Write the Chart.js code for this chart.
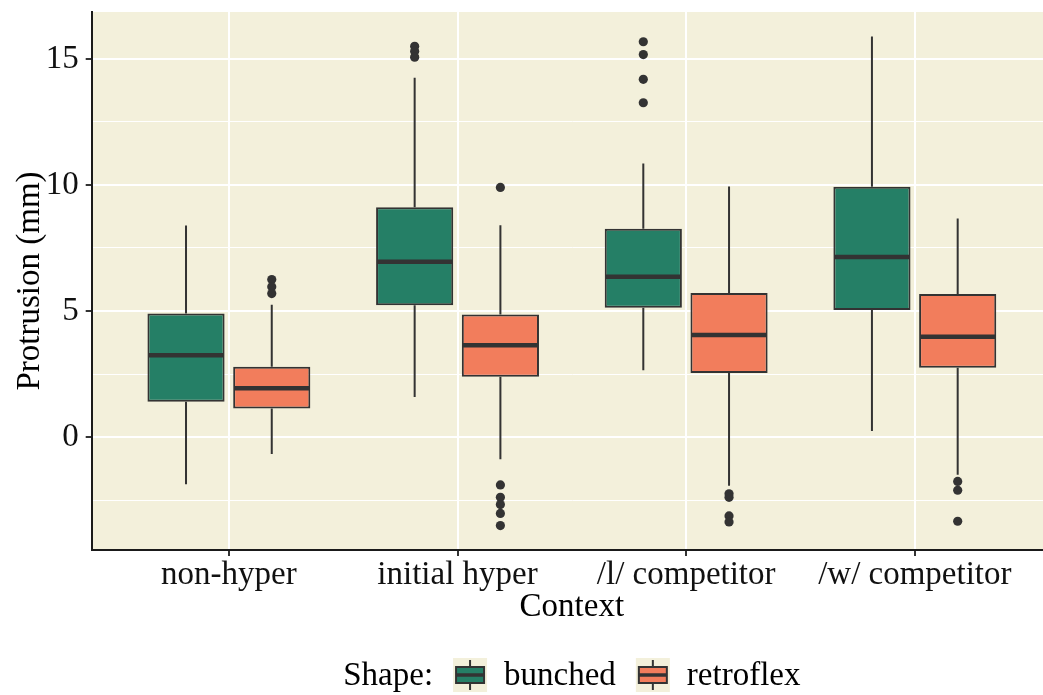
<!DOCTYPE html>
<html>
<head>
<meta charset="utf-8">
<script src="https://cdn.jsdelivr.net/npm/chart.js@4.4.1/dist/chart.umd.min.js"></script>
<style>
  html, body { margin: 0; padding: 0; background: #ffffff; overflow: hidden; width: 1043px; height: 695px; }
  canvas { display: block; }
</style>
</head>
<body>
<canvas id="chart" width="1052" height="695"></canvas>
<script>
// Lip protrusion (mm) by context and /r/ tongue shape
const contexts = ['non-hyper', 'initial hyper', '/l/ competitor', '/w/ competitor'];
const shapes = ['bunched', 'retroflex'];

const bunchedLower  = [-1.87, 1.59, 2.65, 0.24];
const bunchedQ1     = [1.40, 5.23, 5.13, 5.04];
const bunchedMedian = [3.24, 6.95, 6.36, 7.14];
const bunchedQ3     = [4.90, 9.12, 8.26, 9.93];
const bunchedUpper  = [8.39, 14.25, 10.85, 15.89];
const bunchedOutliers = [[], [15.50, 15.30, 15.07], [15.68, 15.17, 14.19, 13.26], []];

const retroflexLower  = [-0.67, -0.88, -1.93, -1.50];
const retroflexQ1     = [1.13, 2.39, 2.54, 2.75];
const retroflexMedian = [1.94, 3.64, 4.05, 3.98];
const retroflexQ3     = [2.79, 4.86, 5.71, 5.67];
const retroflexUpper  = [5.25, 8.40, 9.94, 8.67];
const retroflexOutliers = [[6.25, 5.96, 5.69], [9.90, -1.90, -2.39, -2.68, -3.03, -3.51], [-2.25, -2.39, -3.13, -3.37], [-1.76, -2.11, -3.34]];

const yTicks = [-2.5, 0, 2.5, 5, 7.5, 10, 12.5, 15];
const yMin = -4.48;
const yMax = 16.86;

const shapeColors = ['#257f66', '#f27d5c'];
const panelColor = '#f3f0db';
const inkColor = '#333333';
const FONT = "'Liberation Serif', 'Times New Roman', serif";

const stats = [
  { lower: bunchedLower, median: bunchedMedian, upper: bunchedUpper, outliers: bunchedOutliers },
  { lower: retroflexLower, median: retroflexMedian, upper: retroflexUpper, outliers: retroflexOutliers }
];

// boxes are floating bars spanning the interquartile range
const boxes = (q1, q3) => q1.map((v, i) => ({ x: i, y: [v, q3[i]] }));

const panelBackground = {
  id: 'panelBackground',
  beforeDraw(chart) {
    const { ctx, chartArea: a } = chart;
    ctx.save();
    ctx.fillStyle = panelColor;
    ctx.fillRect(a.left, a.top, a.right - a.left, a.bottom - a.top);
    ctx.restore();
  }
};

// whiskers, medians and outlying points, placed on each box drawn by the bar controller
const boxParts = {
  id: 'boxParts',
  afterDatasetsDraw(chart) {
    const { ctx } = chart;
    const y = chart.scales.y;
    ctx.save();
    stats.forEach((s, d) => {
      const meta = chart.getDatasetMeta(d);
      meta.data.forEach((bar, i) => {
        const cx = bar.x;
        const half = bar.width / 2;
        const raw = chart.data.datasets[d].data[i].y;
        const pQ1 = y.getPixelForValue(raw[0]);
        const pQ3 = y.getPixelForValue(raw[1]);
        ctx.strokeStyle = inkColor;
        ctx.lineWidth = 2;
        ctx.lineCap = 'butt';
        ctx.beginPath();
        ctx.moveTo(cx, pQ3);
        ctx.lineTo(cx, y.getPixelForValue(s.upper[i]));
        ctx.moveTo(cx, pQ1);
        ctx.lineTo(cx, y.getPixelForValue(s.lower[i]));
        ctx.stroke();
        ctx.lineWidth = 4.5;
        ctx.beginPath();
        const pm = y.getPixelForValue(s.median[i]);
        ctx.moveTo(cx - half + 1, pm);
        ctx.lineTo(cx + half - 1, pm);
        ctx.stroke();
        ctx.fillStyle = inkColor;
        s.outliers[i].forEach(v => {
          ctx.beginPath();
          ctx.arc(cx, y.getPixelForValue(v), 4.6, 0, Math.PI * 2);
          ctx.fill();
        });
      });
    });
    ctx.restore();
  }
};

// legend row: "Shape:" followed by a box-plot key per series
const shapeLegend = {
  id: 'shapeLegend',
  afterDraw(chart) {
    const { ctx, chartArea: a } = chart;
    ctx.save();
    ctx.font = '33px ' + FONT;
    ctx.fillStyle = '#000';
    ctx.textBaseline = 'alphabetic';
    ctx.textAlign = 'left';
    const title = 'Shape:';
    const key = 34, gapTitle = 20, gapKey = 17, gapItem = 20;
    const wTitle = ctx.measureText(title).width;
    const widths = shapes.map(s => ctx.measureText(s).width);
    let total = wTitle + gapTitle;
    widths.forEach((w, i) => { total += (i > 0 ? gapItem : 0) + key + gapKey + w; });
    const baseline = 685;
    const keyTop = 658;
    let x = (a.left + a.right) / 2 - total / 2;
    ctx.fillText(title, x, baseline);
    x += wTitle + gapTitle;
    shapes.forEach((s, i) => {
      if (i > 0) x += gapItem;
      ctx.fillStyle = panelColor;
      ctx.fillRect(x, keyTop, key, key);
      const cx = x + key / 2;
      ctx.strokeStyle = inkColor;
      ctx.lineWidth = 2;
      ctx.beginPath();
      ctx.moveTo(cx, keyTop + 2);
      ctx.lineTo(cx, keyTop + 9);
      ctx.moveTo(cx, keyTop + 25);
      ctx.lineTo(cx, keyTop + 32);
      ctx.stroke();
      ctx.fillStyle = shapeColors[i];
      ctx.fillRect(x + 3, keyTop + 9, key - 6, 16);
      ctx.strokeRect(x + 3, keyTop + 9, key - 6, 16);
      ctx.lineWidth = 3.5;
      ctx.beginPath();
      ctx.moveTo(x + 3, keyTop + 17);
      ctx.lineTo(x + key - 3, keyTop + 17);
      ctx.stroke();
      x += key + gapKey;
      ctx.fillStyle = '#000';
      ctx.fillText(s, x, baseline);
      x += widths[i];
    });
    ctx.restore();
  }
};

const isMajor = c => c.tick && Math.abs(c.tick.value % 5) < 1e-9;

new Chart(document.getElementById('chart'), {
  type: 'bar',
  data: {
    datasets: [
      { label: shapes[0], data: boxes(bunchedQ1, bunchedQ3), backgroundColor: shapeColors[0], borderColor: inkColor, borderWidth: 2, borderSkipped: false },
      { label: shapes[1], data: boxes(retroflexQ1, retroflexQ3), backgroundColor: shapeColors[1], borderColor: inkColor, borderWidth: 2, borderSkipped: false }
    ]
  },
  plugins: [panelBackground, boxParts, shapeLegend],
  options: {
    responsive: false,
    animation: false,
    devicePixelRatio: 1,
    layout: { padding: { top: 12, right: 0, bottom: 0, left: 0 } },
    font: { family: FONT },
    plugins: { legend: { display: false }, tooltip: { enabled: false } },
    datasets: { bar: { categoryPercentage: 0.75, barPercentage: 0.9 } },
    scales: {
      x: {
        type: 'linear',
        offset: false,
        min: -0.6,
        max: 3.6,
        afterBuildTicks: s => { s.ticks = contexts.map((_, i) => ({ value: i })); },
        afterFit: s => { s.height = 145; s.paddingLeft = 0; s.paddingRight = 0; },
        ticks: {
          autoSkip: false, maxRotation: 0, minRotation: 0, padding: 3,
          color: '#111', font: { family: FONT, size: 33, lineHeight: 1 },
          callback: v => contexts[v]
        },
        grid: { offset: false, color: '#ffffff', lineWidth: 2, tickLength: 6, tickColor: inkColor, tickWidth: 2 },
        border: { color: '#1a1a1a', width: 2 },
        title: { display: true, text: 'Context', color: '#000', font: { family: FONT, size: 33, lineHeight: 1.2 }, padding: { top: 0, bottom: 68 } }
      },
      y: {
        min: yMin,
        max: yMax,
        afterBuildTicks: s => { s.ticks = yTicks.map(v => ({ value: v })); },
        afterFit: s => { s.width = 91.7; s.paddingTop = 0; s.paddingBottom = 0; },
        ticks: {
          padding: 7, color: '#111', font: { family: FONT, size: 33 },
          callback: v => (Math.abs(v % 5) < 1e-9 ? String(v) : '')
        },
        grid: {
          color: '#ffffff',
          lineWidth: c => (isMajor(c) ? 2 : 1),
          tickLength: 6,
          tickColor: c => (isMajor(c) ? inkColor : 'rgba(0,0,0,0)'),
          tickWidth: 2
        },
        border: { color: '#1a1a1a', width: 2 },
        title: { display: true, text: 'Protrusion (mm)', color: '#000', font: { family: FONT, size: 33, lineHeight: 1.2 }, padding: { top: 11, bottom: 0 } }
      }
    }
  }
});
</script>
</body>
</html>
